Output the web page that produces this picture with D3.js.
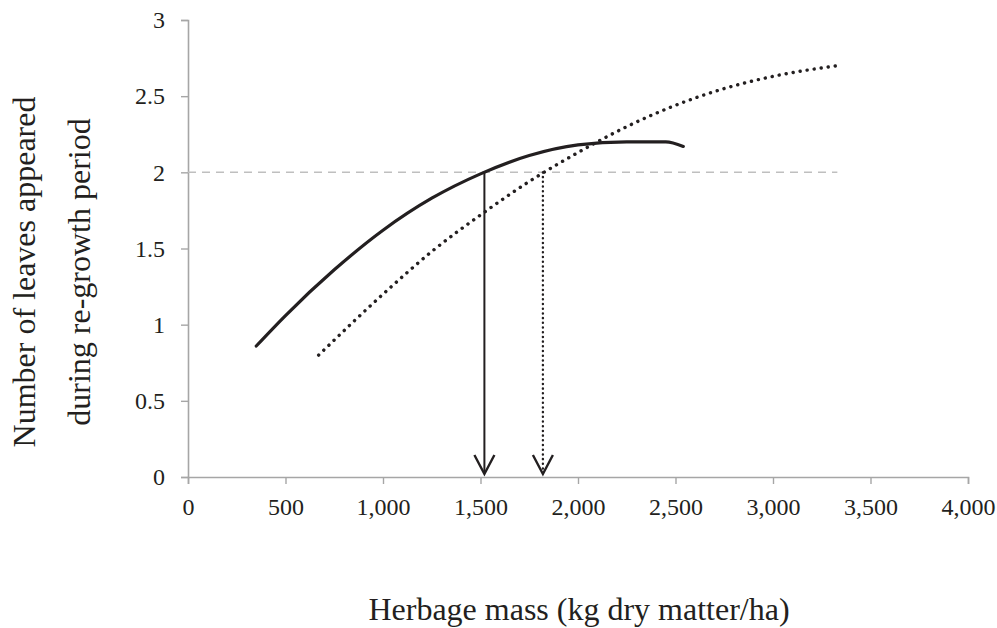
<!DOCTYPE html>
<html><head><meta charset="utf-8">
<script src="https://cdn.jsdelivr.net/npm/d3@7"></script>
<style>body{margin:0;background:#fff}svg{display:block}text{font-family:"Liberation Serif","Times New Roman",serif;fill:#231f20}</style>
</head><body>
<svg id="c" width="997" height="628"></svg>
<script>
const xTicks = [0,500,1000,1500,2000,2500,3000,3500,4000];
const yTicks = [0,0.5,1,1.5,2,2.5,3];
const solidX = [350,500,750,1000,1250,1500,1750,2000,2250,2450,2540];
const solidY = [0.86,1.06,1.36,1.62,1.83,1.99,2.11,2.18,2.20,2.20,2.17];
const dottedX = [670,1000,1250,1500,1750,2000,2250,2500,2750,3000,3330];
const dottedY = [0.80,1.20,1.48,1.72,1.94,2.13,2.30,2.44,2.55,2.63,2.70];
const refY = 2;
const refXEnd = 3330;
const arrowSolidX = 1520;
const arrowDottedX = 1820;
const xTitle = "Herbage mass (kg dry matter/ha)";
const yTitle = ["Number of leaves appeared","during re-growth period"];

const svg = d3.select("#c");
const x = d3.scaleLinear().domain([0,4000]).range([188,968]);
const y = d3.scaleLinear().domain([0,3]).range([477,20]);
const axisCol = "#a6a6a6";

const gx = svg.append("g").attr("transform",`translate(0,${y(0)})`)
  .call(d3.axisBottom(x).tickValues(xTicks).tickSize(7).tickPadding(14).tickFormat(d3.format(",")));
const gy = svg.append("g").attr("transform",`translate(${x(0)},0)`)
  .call(d3.axisLeft(y).tickValues(yTicks).tickSize(7).tickPadding(16).tickFormat(d=>d));
[gx,gy].forEach(g=>{
  g.attr("font-size",null).attr("font-family",null);
  g.select(".domain").attr("stroke",axisCol).attr("stroke-width",1.6);
  g.selectAll(".tick line").attr("stroke",axisCol).attr("stroke-width",1.4);
  g.selectAll(".tick text").style("font-size","24px").style("font-family","'Liberation Serif', serif").attr("fill","#231f20");
});

// reference dashed line
svg.append("line").attr("x1",x(0)).attr("x2",x(refXEnd)).attr("y1",y(refY)).attr("y2",y(refY))
  .attr("stroke","#bfbfbf").attr("stroke-width",1.5).attr("stroke-dasharray","8,6");

const line = d3.line().curve(d3.curveMonotoneX).x(d=>x(d[0])).y(d=>y(d[1]));
svg.append("path").datum(solidX.map((v,i)=>[v,solidY[i]])).attr("d",line)
  .attr("fill","none").attr("stroke","#231f20").attr("stroke-width",3.2).attr("stroke-linecap","round");
svg.append("path").datum(dottedX.map((v,i)=>[v,dottedY[i]])).attr("d",line)
  .attr("fill","none").attr("stroke","#231f20").attr("stroke-width",3.4)
  .attr("stroke-linecap","round").attr("stroke-dasharray","0.1,7");

// arrows
function head(xv){
  const px = x(xv), tip = y(0)-3;
  svg.append("path").attr("d",`M${px-10},${tip-19} L${px},${tip} L${px+10},${tip-19}`)
    .attr("fill","none").attr("stroke","#231f20").attr("stroke-width",2.4);
}
svg.append("line").attr("x1",x(arrowSolidX)).attr("x2",x(arrowSolidX)).attr("y1",y(refY)).attr("y2",y(0)-4)
  .attr("stroke","#231f20").attr("stroke-width",2);
head(arrowSolidX);
svg.append("line").attr("x1",x(arrowDottedX)).attr("x2",x(arrowDottedX)).attr("y1",y(refY)).attr("y2",y(0)-8)
  .attr("stroke","#231f20").attr("stroke-width",2.4).attr("stroke-linecap","round")
  .attr("stroke-dasharray","0.1,4.6");
head(arrowDottedX);

// titles
svg.append("text").attr("x",579).attr("y",620).attr("text-anchor","middle").style("font-size","32px").text(xTitle);
yTitle.forEach((t,i)=>{
  svg.append("text").attr("transform",`translate(${35+i*55},272) rotate(-90)`)
    .attr("text-anchor","middle").style("font-size","32px").text(t);
});
</script>
</body></html>
